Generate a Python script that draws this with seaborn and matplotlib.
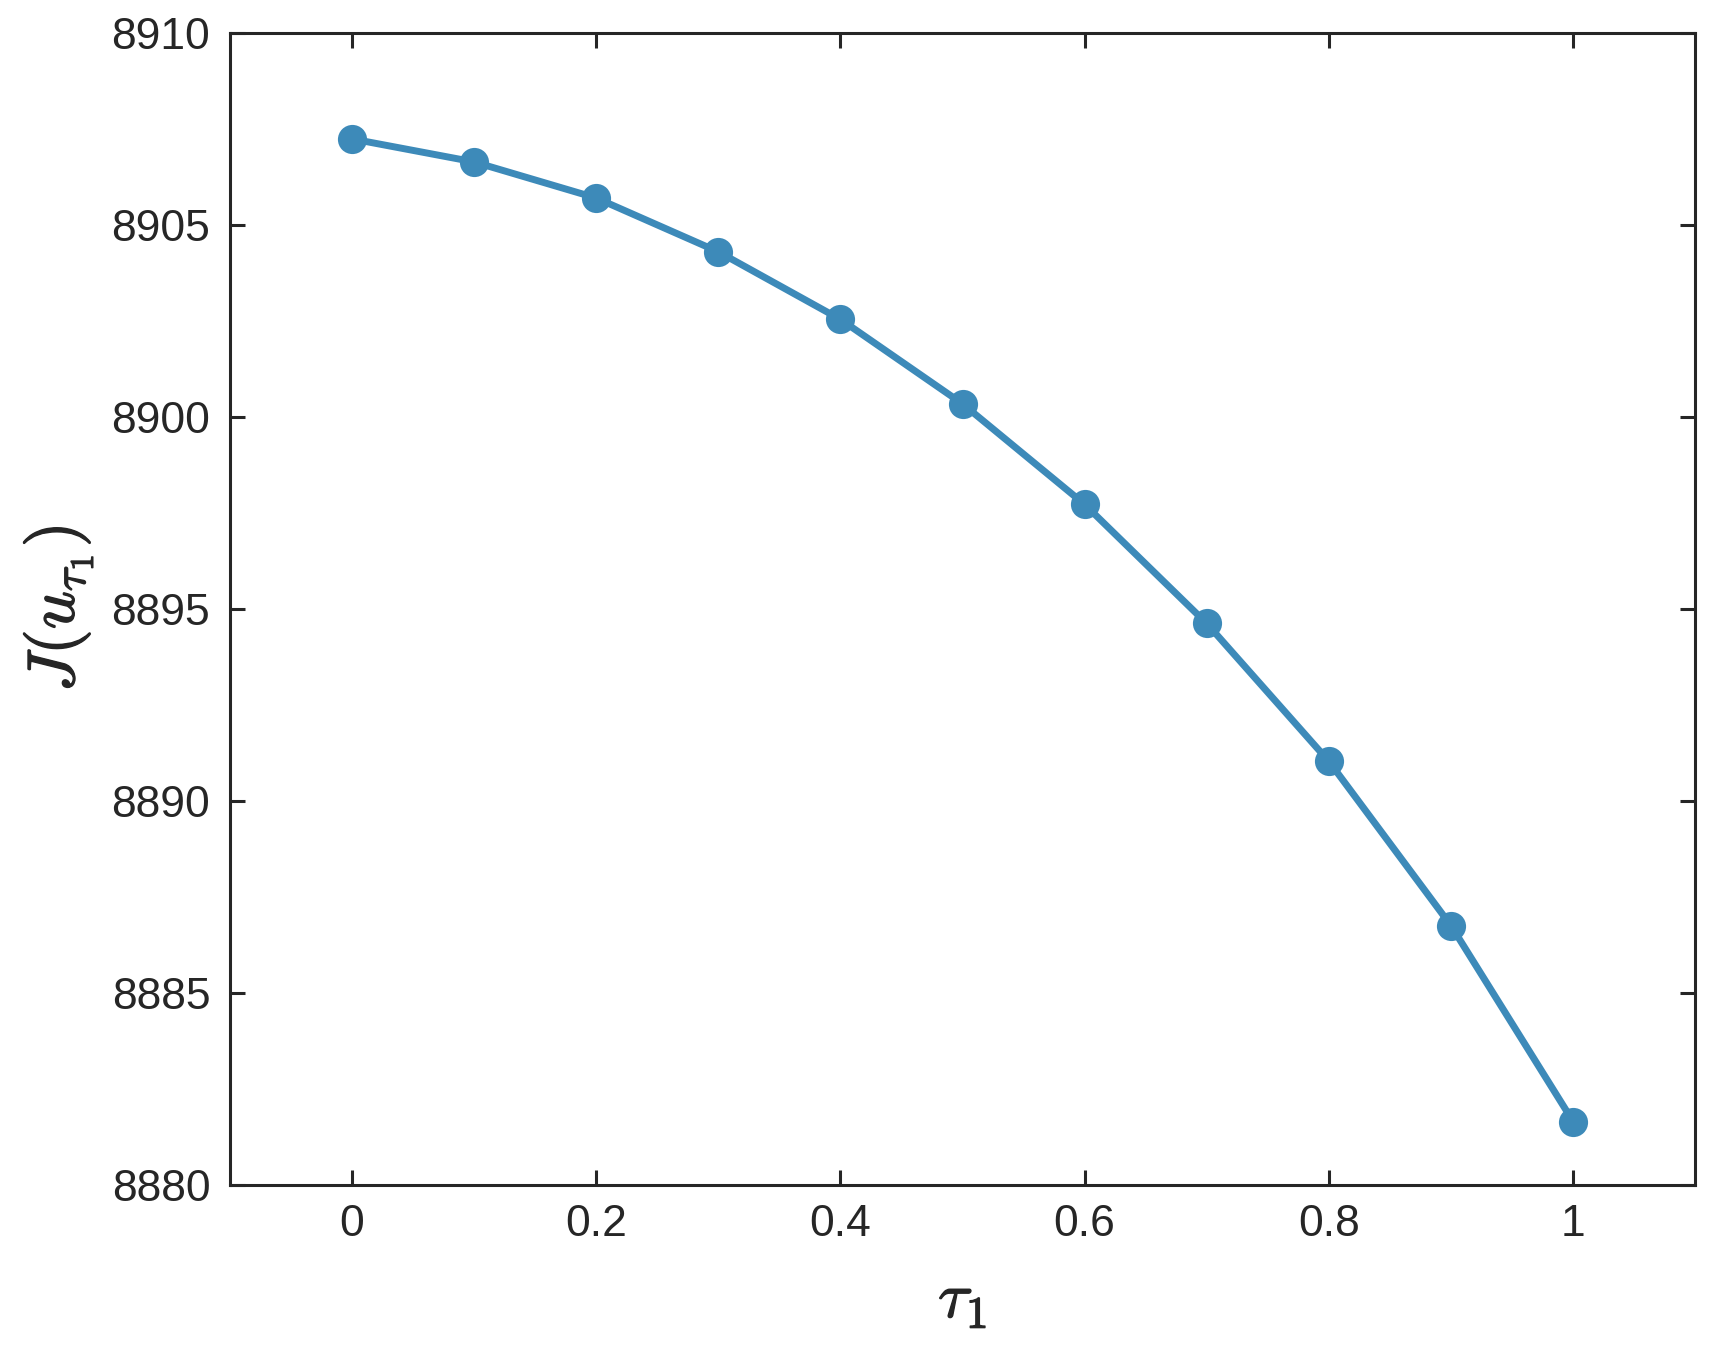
import numpy as np
import matplotlib
matplotlib.use('Agg')
import matplotlib.pyplot as plt
import matplotlib.patheffects as pe
import pandas as pd
import seaborn as sns

sns.set_theme(style='ticks')
plt.rcParams['font.family'] = ['Liberation Sans', 'DejaVu Sans']
plt.rcParams['mathtext.fontset'] = 'cm'

# values
tau = [0.0, 0.1, 0.2, 0.3, 0.4, 0.5, 0.6, 0.7, 0.8, 0.9, 1.0]
J = [8907.24, 8906.64, 8905.70, 8904.30, 8902.54, 8900.34,
     8897.72, 8894.62, 8891.03, 8886.75, 8881.65]
xticks = [0, 0.2, 0.4, 0.6, 0.8, 1]
xticklabels = ['0', '0.2', '0.4', '0.6', '0.8', '1']
yticks = [8880, 8885, 8890, 8895, 8900, 8905, 8910]

df = pd.DataFrame({'tau': tau, 'J': J})

fig = plt.figure(figsize=(17.15, 13.48), dpi=100)
ax = fig.add_axes([0.134, 0.121, 0.8545, 0.8546])

sns.lineplot(data=df, x='tau', y='J', ax=ax, color='#3d8ab9', linewidth=5,
             marker='o', markersize=21, markeredgewidth=0)

ax.set_xlim(-0.1, 1.1)
ax.set_ylim(8880, 8910)
ax.set_xticks(xticks)
ax.set_xticklabels(xticklabels)
ax.set_yticks(yticks)

# slightly heavier strokes on the math labels, like the reference
heavy = [pe.withStroke(linewidth=1.0, foreground='#262626')]
ax.set_xlabel(r'$\tau_1$', fontsize=46, labelpad=18, color='#262626',
              path_effects=heavy)
ax.set_ylabel(r'$J(u_{\tau_1})$', fontsize=48, labelpad=12, color='#262626',
              path_effects=heavy)

for s in ax.spines.values():
    s.set_visible(True)
    s.set_linewidth(2.2)
    s.set_color('#262626')
ax.tick_params(direction='in', length=11, width=2.2, colors='#262626',
               labelsize=32, top=True, right=True, pad=14)

fig.savefig('out.png', dpi=100)
